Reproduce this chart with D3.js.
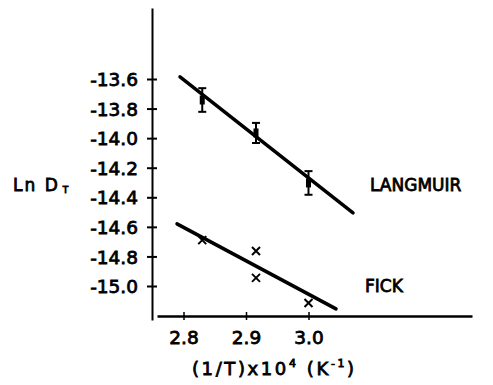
<!DOCTYPE html>
<html>
<head>
<meta charset="utf-8">
<script src="https://cdn.jsdelivr.net/npm/d3@7"></script>
<style>
  html, body { margin: 0; padding: 0; background: #fff; }
  svg { display: block; }
  text { font-family: "DejaVu Sans", sans-serif; fill: #000; }
</style>
</head>
<body>
<svg id="chart" width="493" height="385"></svg>
<script>
// ---- data ----
const xTicks = [2.8, 2.9, 3.0];
const xTickLabels = ["2.8", "2.9", "3.0"];
const yTicks = [-13.6, -13.8, -14.0, -14.2, -14.4, -14.6, -14.8, -15.0];
const yTickLabels = ["-13.6", "-13.8", "-14.0", "-14.2", "-14.4", "-14.6", "-14.8", "-15.0"];

const langmuirX = [2.83, 2.916, 3.0];
const langmuirY = [-13.742, -13.965, -14.303];
const langmuirErr = [0.08, 0.068, 0.08];
const langmuirFitX = [2.7944, 3.0712];
const langmuirFitY = [-13.586, -14.506];

const fickX = [2.83, 2.916, 2.916, 3.0];
const fickY = [-14.69, -14.763, -14.945, -15.115];
const fickFitX = [2.7896, 3.044];
const fickFitY = [-14.580, -15.155];

// ---- scales ----
const svg = d3.select("#chart");
const x = d3.scaleLinear().domain([2.8, 3.0]).range([183.5, 308.5]);
const y = d3.scaleLinear().domain([-13.6, -15.0]).range([79, 286]);

const xAxisScale = x.copy().domain([x.invert(157), x.invert(472)]).range([157, 472]);
const yAxisScale = y.copy().domain([y.invert(8), y.invert(320)]).range([8, 320]);

const fontTick = 18.5;
const textStroke = 0.8;

// y axis
const gy = svg.append("g").attr("transform", "translate(152,0)")
  .call(d3.axisLeft(yAxisScale).tickValues(yTicks)
    .tickFormat((d, i) => yTickLabels[i]).tickSizeInner(5).tickSizeOuter(0).tickPadding(9));
gy.select(".domain").attr("stroke", "#000").attr("stroke-width", 2);
gy.selectAll(".tick line").attr("x1", 5).attr("stroke", "#000").attr("stroke-width", 2);
gy.selectAll(".tick text").attr("font-size", fontTick).attr("font-family", "DejaVu Sans")
  .attr("stroke", "#000").attr("stroke-width", textStroke).attr("dy", "0.36em");

// x axis
const gx = svg.append("g").attr("transform", "translate(0,316)")
  .call(d3.axisBottom(xAxisScale).tickValues(xTicks)
    .tickFormat((d, i) => xTickLabels[i]).tickSizeInner(4).tickSizeOuter(0).tickPadding(11));
gx.select(".domain").attr("stroke", "#000").attr("stroke-width", 2.5);
gx.selectAll(".tick line").attr("y1", -4).attr("stroke", "#000").attr("stroke-width", 1.5);
gx.selectAll(".tick text").attr("font-size", fontTick).attr("font-family", "DejaVu Sans")
  .attr("stroke", "#000").attr("stroke-width", textStroke);

// fit lines
const line = d3.line().x(d => x(d[0])).y(d => y(d[1]));
svg.append("path").datum(d3.zip(langmuirFitX, langmuirFitY))
  .attr("d", line).attr("fill", "none").attr("stroke", "#000")
  .attr("stroke-width", 3.5).attr("stroke-linecap", "round");
svg.append("path").datum(d3.zip(fickFitX, fickFitY))
  .attr("d", line).attr("fill", "none").attr("stroke", "#000")
  .attr("stroke-width", 3.5).attr("stroke-linecap", "round");

// Langmuir error bars
const lp = svg.append("g");
langmuirX.forEach((xv, i) => {
  const cx = x(xv), cy = y(langmuirY[i]);
  const yt = y(langmuirY[i] + langmuirErr[i]), yb = y(langmuirY[i] - langmuirErr[i]);
  lp.append("line").attr("x1", cx).attr("x2", cx).attr("y1", yt).attr("y2", yb)
    .attr("stroke", "#000").attr("stroke-width", 2);
  [yt, yb].forEach(yy => lp.append("line").attr("x1", cx - 4).attr("x2", cx + 4)
    .attr("y1", yy).attr("y2", yy).attr("stroke", "#000").attr("stroke-width", 2));
  lp.append("rect").attr("x", cx - 2.5).attr("y", cy - 4.5).attr("width", 5).attr("height", 9)
    .attr("fill", "#000");
});

// Fick crosses
const fp = svg.append("g");
fickX.forEach((xv, i) => {
  const cx = x(xv), cy = y(fickY[i]);
  const s = 4;
  fp.append("path")
    .attr("d", `M${cx - s},${cy - s}L${cx + s},${cy + s}M${cx - s},${cy + s}L${cx + s},${cy - s}`)
    .attr("stroke", "#000").attr("stroke-width", 2).attr("fill", "none");
});

// labels
const yl = svg.append("text").attr("x", 13).attr("y", 191).attr("font-size", 17)
  .attr("stroke", "#000").attr("stroke-width", textStroke).attr("letter-spacing", 2);
yl.append("tspan").text("Ln D");
yl.append("tspan").attr("font-size", 9).attr("dx", 3).attr("dy", 2).text("T");

const xl = svg.append("text").attr("x", 192).attr("y", 375).attr("font-size", 18)
  .attr("stroke", "#000").attr("stroke-width", textStroke).attr("letter-spacing", 2.6);
xl.append("tspan").text("(1/T)x10");
xl.append("tspan").attr("font-size", 11).attr("dy", -8).text("4");
xl.append("tspan").attr("dy", 8).text(" (K");
xl.append("tspan").attr("font-size", 11).attr("dy", -8).text("-1");
xl.append("tspan").attr("dy", 8).text(")");

svg.append("text").attr("x", 370).attr("y", 191).attr("font-size", 17)
  .attr("stroke", "#000").attr("stroke-width", textStroke).text("LANGMUIR");
svg.append("text").attr("x", 365).attr("y", 292).attr("font-size", 17)
  .attr("stroke", "#000").attr("stroke-width", textStroke).text("FICK");
</script>
</body>
</html>
